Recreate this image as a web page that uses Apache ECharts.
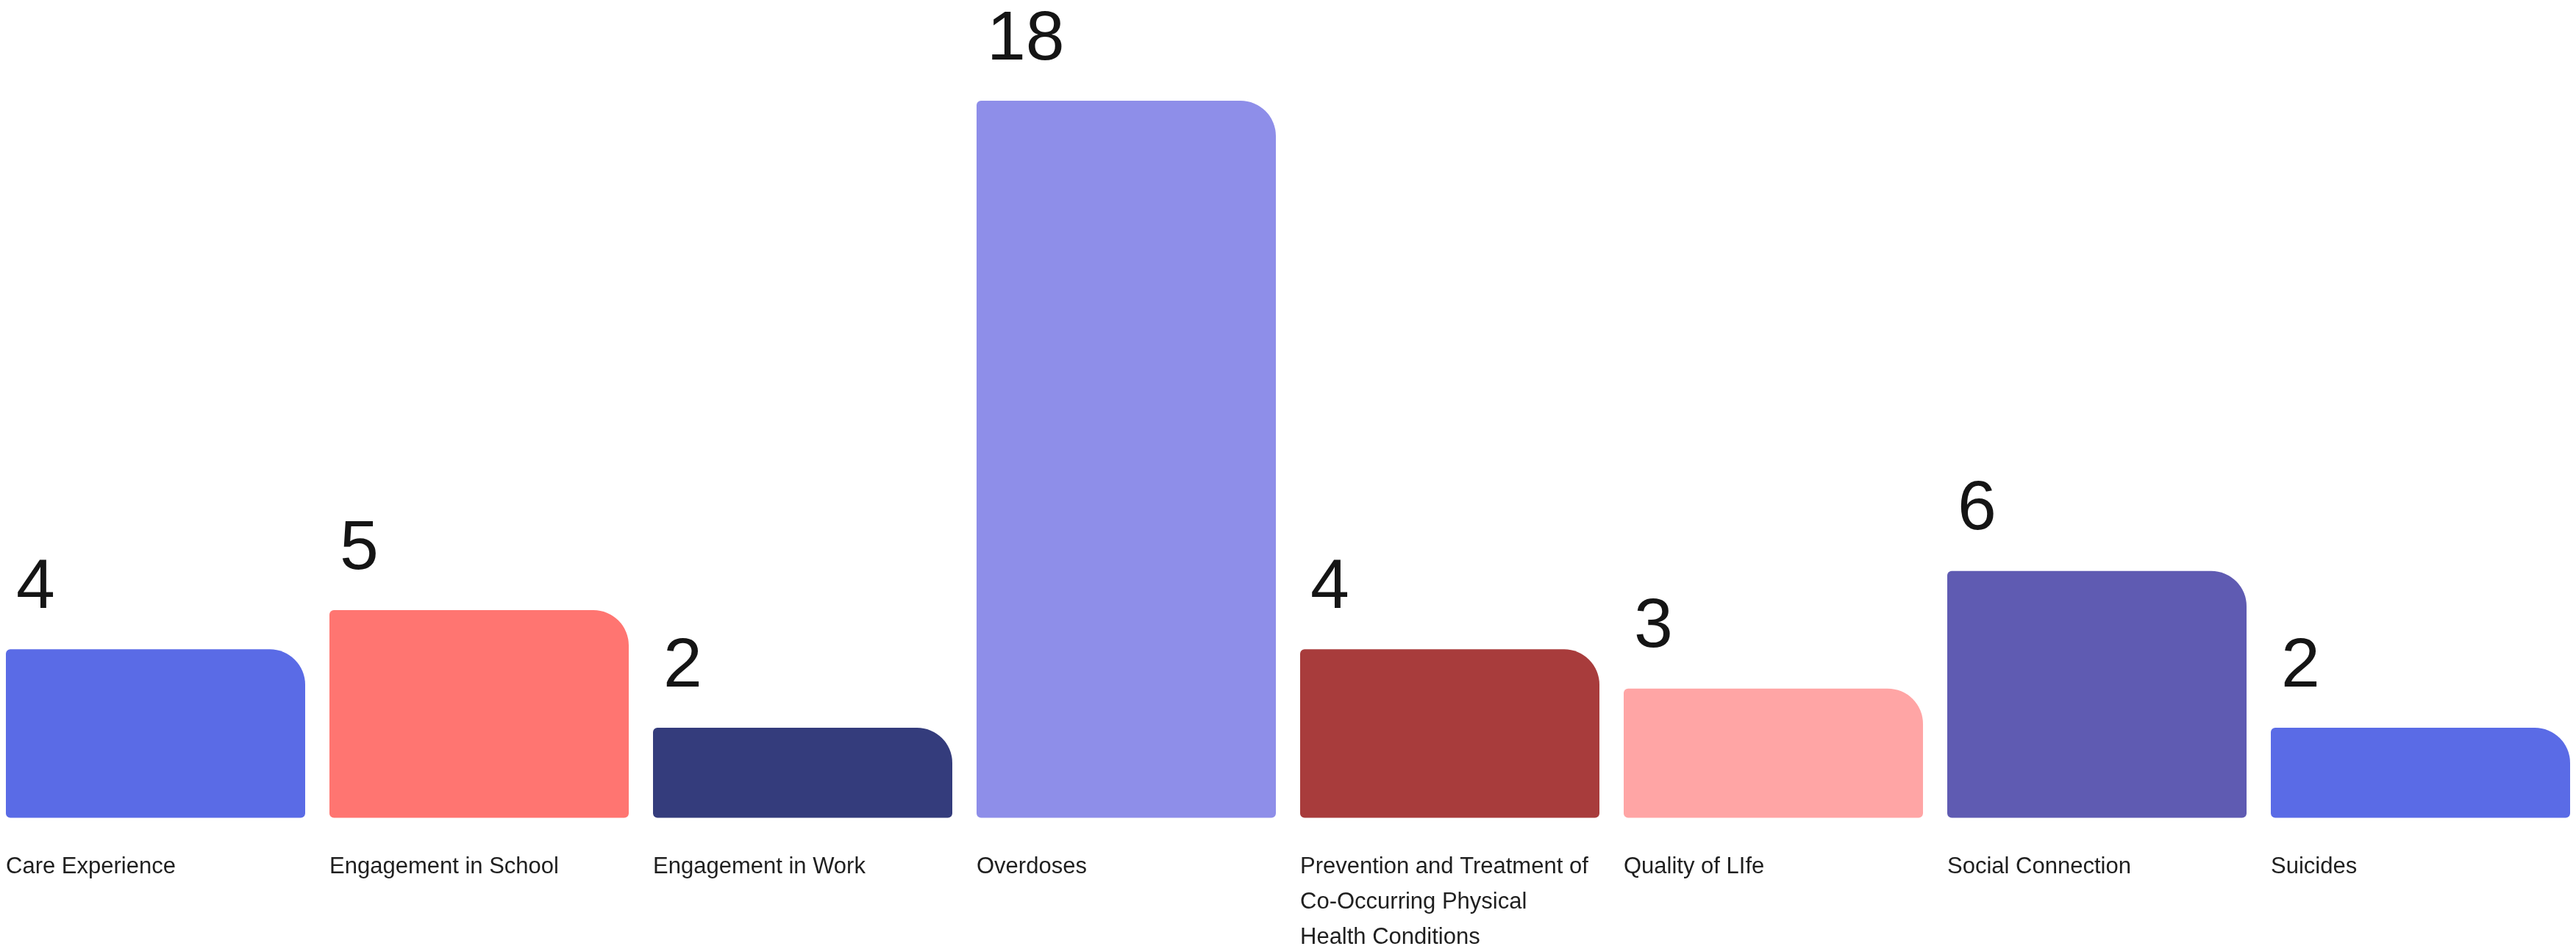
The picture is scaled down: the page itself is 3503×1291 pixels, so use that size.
<!DOCTYPE html>
<html>
<head>
<meta charset="utf-8">
<script src="https://cdn.jsdelivr.net/npm/echarts@6/dist/echarts.min.js"></script>
<style>
  html, body { margin: 0; padding: 0; background: #fff; }
  #wrap { width: 3503px; height: 1291px; }
</style>
</head>
<body>
<div id="wrap"></div>
<script>
var categories = ['Care Experience', 'Engagement in School', 'Engagement in Work', 'Overdoses',
    'Prevention and Treatment of\nCo-Occurring Physical\nHealth Conditions',
    'Quality of LIfe', 'Social Connection', 'Suicides'];
var counts = [4, 5, 2, 18, 4, 3, 6, 2];
var barColors = ['#5A6BE6', '#FF7571', '#343C7C', '#8E8EE9', '#A83C3C', '#FFA5A5', '#5F5BB2', '#5A6BE6'];

var myChart = echarts.init(document.getElementById('wrap'));

var seriesData = [];
counts.forEach(function(v, i) {
    seriesData.push({ value: v, itemStyle: { color: barColors[i] } });
});

var option = {
    animation: false,
    grid: { left: -8.5, right: -8.5, top: 137, bottom: 178.4, outerBoundsMode: 'none', containLabel: false },
    xAxis: {
        type: 'category',
        data: categories,
        axisLine: { show: false },
        axisTick: { show: false },
        axisLabel: {
            interval: 0,
            align: 'left',
            verticalAlign: 'top',
            margin: 43,
            padding: [0, 0, 0, -203.5],
            fontFamily: 'Liberation Sans',
            fontSize: 31,
            lineHeight: 48,
            color: '#1f1f1f'
        }
    },
    yAxis: {
        type: 'value',
        min: -0.3,
        max: 18,
        startValue: -0.3,
        show: false,
        splitLine: { show: false }
    },
    series: [{
        type: 'bar',
        data: seriesData,
        barWidth: 407,
        itemStyle: { borderRadius: [6, 48, 6, 6] },
        label: {
            show: true,
            position: [14, -35],
            align: 'left',
            verticalAlign: 'bottom',
            fontFamily: 'Liberation Sans',
            fontSize: 95,
            lineHeight: 95,
            color: '#151515'
        }
    }]
};
myChart.setOption(option);
</script>
</body>
</html>
